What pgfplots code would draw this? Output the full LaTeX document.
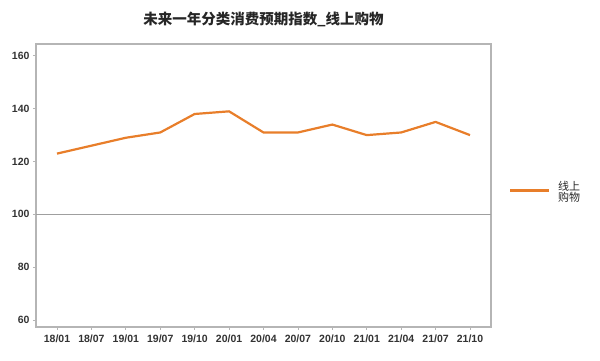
\documentclass[border=0pt]{standalone}
\usepackage{pgfplots}
\pgfplotsset{compat=1.18}
\usepackage{fontspec}
\setmainfont{Liberation Sans}
\newfontfamily\cjk{Noto Sans CJK SC}
\definecolor{lineor}{HTML}{E87E2A}
\definecolor{frame}{HTML}{B5B5B5}
\definecolor{ticktxt}{HTML}{333333}
\begin{document}
\begin{tikzpicture}[x=1pt,y=1pt]
\useasboundingbox (0,0) rectangle (600,361);
\begin{axis}[
  at={(36pt,34pt)}, anchor=south west,
  scale only axis, width=455pt, height=283pt,
  xmin=-0.61, xmax=12.61, ymin=57.35, ymax=164.5,
  xtick={0,...,12},
  xticklabels={18/01,18/07,19/01,19/07,19/10,20/01,20/04,20/07,20/10,21/01,21/04,21/07,21/10},
  ytick={60,80,100,120,140,160},
  axis line style={frame, line width=1.3pt},
  tick style={frame, line width=0.8pt},
  tick align=outside, major tick length=3pt,
  xtick pos=bottom, ytick pos=left,
  /pgf/number format/assume math mode=true,
  ticklabel style={font=\fontsize{10.5}{12}\selectfont\bfseries, text=ticktxt},
  xticklabel style={yshift=-1pt},
  clip=false,
]
\addplot[color=gray!75, line width=0.8pt, forget plot] coordinates {(-0.61,100) (12.61,100)};
\addplot[color=lineor, line width=2.2pt, line join=round] coordinates {
(0,123) (1,126) (2,129) (3,131) (4,138) (5,139) (6,131) (7,131) (8,134) (9,130) (10,131) (11,135) (12,130)};
\end{axis}
\node[font=\cjk\fontsize{14.5}{17}\selectfont\bfseries, text=black!85] at (263.5,342) {未来一年分类消费预期指数\_线上购物};
\draw[lineor, line width=2.2pt] (510,170.5) -- (549,170.5);
\node[font=\cjk\fontsize{11}{12}\selectfont, anchor=west, align=left, inner sep=0pt, text=black!85] at (558,169.5) {线上\\[-1pt]购物};
\end{tikzpicture}
\end{document}
